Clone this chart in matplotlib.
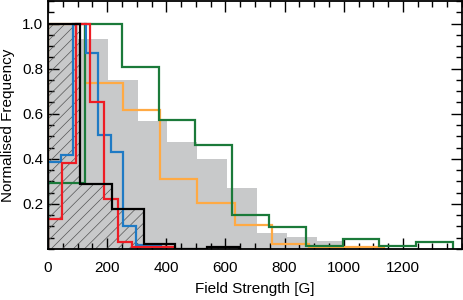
import numpy as np
import matplotlib
matplotlib.use('Agg')
import matplotlib.pyplot as plt
from matplotlib.ticker import MultipleLocator

plt.rcParams['font.family'] = ['Liberation Sans', 'DejaVu Sans']
plt.rcParams['font.size'] = 11
plt.rcParams['hatch.linewidth'] = 0.5

# bin edges [G] and normalised frequencies
gray_edges = [0, 101, 202, 303, 404, 505, 606, 707, 808, 909, 1005]
gray_vals = [1.0, 0.93, 0.75, 0.566, 0.474, 0.40, 0.272, 0.072, 0.054, 0.036]

black_edges = [0, 107, 215, 323, 430, 538, 645]
black_vals = [1.0, 0.288, 0.178, 0.022, 0.0, 0.01]

red_edges = [0, 47.5, 95, 142.5, 190, 237.5, 285, 332.5, 380, 430]
red_vals = [0.133, 0.381, 1.0, 0.65, 0.222, 0.03, 0.01, 0.01, 0.01]

blue_edges = [0, 42.5, 85, 127.5, 170, 212.5, 255, 297.5, 340, 382.5]
blue_vals = [0.385, 0.418, 1.0, 0.87, 0.507, 0.432, 0.104, 0.018, 0.012]

green_edges = [0, 124.5, 249, 374, 498, 622, 747, 871, 996, 1120, 1245, 1369]
green_vals = [0.292, 1.0, 0.807, 0.57, 0.46, 0.151, 0.096, 0.015, 0.043, 0.015, 0.03]

orange_edges = [0, 126, 253, 380, 503, 631, 757, 881, 1007, 1135]
orange_vals = [1.0, 0.736, 0.618, 0.311, 0.206, 0.107, 0.02, 0.008, 0.008]

fig = plt.figure(figsize=(4.63, 3.0), dpi=100)
ax = fig.add_axes([48 / 463, 51 / 300, 414 / 463, 248 / 300])

ax.stairs(gray_vals, gray_edges, fill=True, color='#c8c9ca', linewidth=0, zorder=1)
ax.stairs(black_vals, black_edges, fill=True, facecolor='none', edgecolor='#555555',
          hatch='///', linewidth=0, zorder=2)

lw = 1.6
ax.stairs(orange_vals, orange_edges, color='#ffaa44', linewidth=lw, zorder=3)
ax.stairs(green_vals, green_edges, color='#1b7a3a', linewidth=lw, zorder=3)
ax.stairs(blue_vals, blue_edges, color='#1f7ac4', linewidth=lw, zorder=4)
ax.stairs(red_vals, red_edges, color='#ee1c24', linewidth=lw, zorder=5)
ax.stairs(black_vals, black_edges, color='black', linewidth=lw, zorder=6)

ax.set_xlim(0, 1400)
ax.set_ylim(0, 1.1)
ax.set_xticks([0, 200, 400, 600, 800, 1000, 1200])
ax.set_yticks([0.2, 0.4, 0.6, 0.8, 1.0])
ax.xaxis.set_minor_locator(MultipleLocator(50))
ax.yaxis.set_minor_locator(MultipleLocator(0.05))
ax.tick_params(which='both', direction='in', top=True, right=True, width=1.0)
ax.tick_params(which='major', length=8)
ax.tick_params(which='minor', length=4)
ax.tick_params(axis='x', which='major', pad=9)
for s in ax.spines.values():
    s.set_linewidth(1.3)
    s.set_zorder(10)

ax.set_xlabel('Field Strength [G]', labelpad=5)
ax.set_ylabel('Normalised Frequency', labelpad=5)

fig.savefig('out.png', dpi=100)
